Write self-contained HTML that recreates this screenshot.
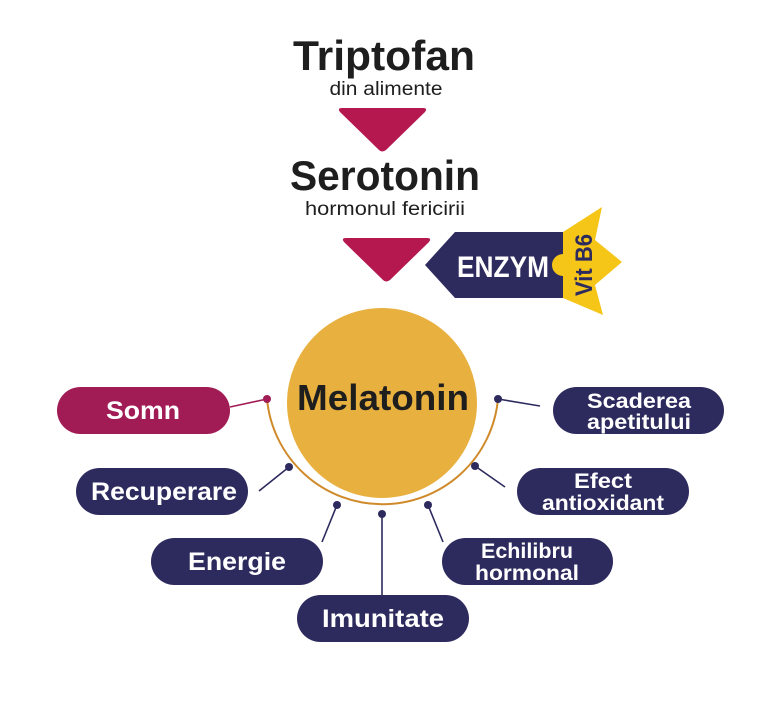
<!DOCTYPE html>
<html><head><meta charset="utf-8"><style>body{margin:0;background:#fff}svg{display:block}</style></head><body>
<svg width="768" height="709" viewBox="0 0 768 709" xmlns="http://www.w3.org/2000/svg" font-family="Liberation Sans Narrow, Liberation Sans, sans-serif">
<text x="384" y="70" font-size="42" font-weight="bold" fill="#1e1e1e" text-anchor="middle" textLength="182" lengthAdjust="spacingAndGlyphs">Triptofan</text>
<text x="386" y="95" font-size="19" fill="#1e1e1e" text-anchor="middle" textLength="113" lengthAdjust="spacingAndGlyphs" font-family="Liberation Sans, sans-serif">din alimente</text>
<path d="M342 108 L423 108 Q428 108 425 112 L386 150 Q382 153 379 150 L340 112 Q337 108 342 108Z" fill="#b5174f"/>
<text x="385" y="190" font-size="42" font-weight="bold" fill="#1e1e1e" text-anchor="middle" textLength="190" lengthAdjust="spacingAndGlyphs">Serotonin</text>
<text x="385" y="215" font-size="19" fill="#1e1e1e" text-anchor="middle" textLength="160" lengthAdjust="spacingAndGlyphs" font-family="Liberation Sans, sans-serif">hormonul fericirii</text>
<path d="M346 238 L427 238 Q432 238 429 242 L390 280 Q386 283 383 280 L344 242 Q341 238 346 238Z" fill="#b5174f"/>
<path d="M425 265 L455 232 L566 232 L566 298 L455 298Z" fill="#2d2a5e"/>
<path d="M563 232 L602 207 L595 240 L622 262 L595 285 L603 315 L563 298 L563 276 A11 11 0 0 1 563 254Z" fill="#f5c518"/>
<text x="503" y="277" font-size="30" font-weight="bold" fill="#fff" text-anchor="middle" textLength="92" lengthAdjust="spacingAndGlyphs">ENZYM</text>
<text transform="translate(592,265) rotate(-90)" font-size="24" font-weight="bold" fill="#2d2a5e" text-anchor="middle" textLength="62" lengthAdjust="spacingAndGlyphs">Vit B6</text>
<circle cx="382" cy="403" r="95" fill="#e8b13f"/>
<text x="383" y="410" font-size="36" font-weight="bold" fill="#1e1e1e" text-anchor="middle" textLength="172" lengthAdjust="spacingAndGlyphs">Melatonin</text>
<path d="M267 399 A116 116 0 0 0 498 399" fill="none" stroke="#d08a2a" stroke-width="2"/>
<g stroke="#2d2a5e" stroke-width="1.6">
<line x1="230" y1="407" x2="267" y2="399" stroke="#a11b55"/>
<line x1="259" y1="491" x2="289" y2="467"/>
<line x1="322" y1="542" x2="337" y2="505"/>
<line x1="382" y1="514" x2="382" y2="595"/>
<line x1="443" y1="542" x2="428" y2="505"/>
<line x1="505" y1="487" x2="475" y2="466"/>
<line x1="540" y1="406" x2="498" y2="399"/>
</g>
<g fill="#2d2a5e">
<circle cx="267" cy="399" r="4" fill="#a11b55"/>
<circle cx="289" cy="467" r="4"/><circle cx="337" cy="505" r="4"/><circle cx="382" cy="514" r="4"/>
<circle cx="428" cy="505" r="4"/><circle cx="475" cy="466" r="4"/><circle cx="498" cy="399" r="4"/>
<rect x="57" y="387" width="173" height="47" rx="23.5" fill="#a11b55"/>
<rect x="76" y="468" width="172" height="47" rx="23.5"/>
<rect x="151" y="538" width="172" height="47" rx="23.5"/>
<rect x="297" y="595" width="172" height="47" rx="23.5"/>
<rect x="442" y="538" width="171" height="47" rx="23.5"/>
<rect x="517" y="468" width="172" height="47" rx="23.5"/>
<rect x="553" y="387" width="171" height="47" rx="23.5"/>
</g>
<g fill="#fff" font-weight="bold" text-anchor="middle" font-size="25">
<text x="143" y="419" textLength="74" lengthAdjust="spacingAndGlyphs">Somn</text>
<text x="164" y="500" textLength="146" lengthAdjust="spacingAndGlyphs">Recuperare</text>
<text x="237" y="570" textLength="98" lengthAdjust="spacingAndGlyphs">Energie</text>
<text x="383" y="627" textLength="122" lengthAdjust="spacingAndGlyphs">Imunitate</text>
<g font-size="21">
<text x="639" y="408" textLength="104" lengthAdjust="spacingAndGlyphs">Scaderea</text>
<text x="639" y="429" textLength="104" lengthAdjust="spacingAndGlyphs">apetitului</text>
<text x="603" y="488" textLength="58" lengthAdjust="spacingAndGlyphs">Efect</text>
<text x="603" y="510" textLength="122" lengthAdjust="spacingAndGlyphs">antioxidant</text>
<text x="527" y="558" textLength="92" lengthAdjust="spacingAndGlyphs">Echilibru</text>
<text x="527" y="580" textLength="104" lengthAdjust="spacingAndGlyphs">hormonal</text>
</g></g>
</svg>
</body></html>
